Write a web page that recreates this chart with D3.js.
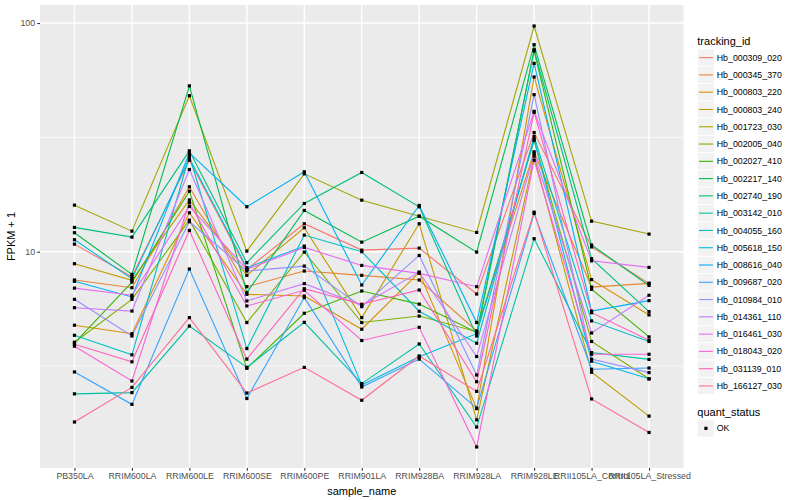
<!DOCTYPE html>
<html>
<head>
<meta charset="utf-8">
<script src="https://d3js.org/d3.v7.min.js"></script>
<style>
body { margin: 0; background: #fff; }
text { font-family: "Liberation Sans", Arial, Helvetica, sans-serif; }
</style>
</head>
<body>
<div id="chart"></div>
<script>
// sample names on the x axis
var samples = ["PB350LA", "RRIM600LA", "RRIM600LE", "RRIM600SE", "RRIM600PE", "RRIM901LA",
               "RRIM928BA", "RRIM928LA", "RRIM928LE", "RRII105LA_Control", "RRII105LA_Stressed"];

// FPKM + 1 per gene, one value per sample
var hb_000309_020 = [10.79, 7.78, 25.12, 8.37, 13.25, 10.16, 10.37, 6.53, 33.19, 10.49, 7.27];
var hb_000345_370 = [7.52, 6.96, 19.22, 7.03, 8.23, 7.88, 7.52, 4.50, 27.34, 7.00, 7.27];
var hb_000803_220 = [4.77, 4.38, 14.80, 6.51, 6.40, 4.58, 8.12, 2.06, 58.1, 7.55, 5.29];
var hb_000803_240 = [8.86, 7.49, 16.84, 7.88, 12.73, 5.15, 13.25, 1.84, 26.16, 2.97, 1.91];
var hb_001723_030 = [15.98, 12.30, 48.1, 10.06, 21.90, 16.80, 14.30, 12.14, 97.0, 13.60, 11.94];
var hb_002005_040 = [4.02, 6.19, 13.74, 4.90, 9.96, 4.90, 5.23, 4.47, 30.62, 4.05, 2.78];
var hb_002027_410 = [3.98, 7.36, 18.39, 3.09, 5.38, 6.73, 5.90, 4.43, 75.4, 6.85, 4.24];
var hb_002217_140 = [12.11, 7.96, 53.1, 6.62, 15.15, 11.01, 14.30, 9.96, 80.4, 10.69, 7.12];
var hb_002740_190 = [12.77, 11.58, 27.61, 8.95, 16.25, 22.20, 15.72, 4.28, 76.4, 9.32, 5.47];
var hb_003142_010 = [2.39, 2.42, 4.73, 3.12, 4.91, 2.65, 3.95, 1.71, 11.40, 3.62, 3.38];
var hb_004055_160 = [4.31, 3.54, 26.34, 3.77, 11.82, 10.00, 5.49, 3.98, 31.88, 4.98, 4.05];
var hb_005618_150 = [11.28, 7.62, 25.63, 8.51, 10.58, 2.61, 3.47, 4.38, 30.93, 3.32, 2.78];
var hb_008616_040 = [7.42, 6.34, 27.06, 15.72, 22.36, 7.15, 15.93, 4.90, 66.6, 5.50, 6.11];
var hb_009687_020 = [2.98, 2.15, 8.40, 2.28, 6.30, 2.56, 3.39, 2.07, 14.70, 3.06, 3.10];
var hb_010984_010 = [6.19, 4.28, 13.52, 8.23, 8.65, 5.75, 9.63, 2.89, 48.6, 3.39, 2.96];
var hb_014361_110 = [5.69, 5.50, 22.88, 6.09, 7.25, 5.83, 8.14, 3.48, 26.88, 4.41, 6.45];
var hb_016461_030 = [6.93, 6.45, 15.77, 8.37, 10.44, 8.71, 8.04, 7.03, 41.1, 9.12, 8.54];
var hb_018043_020 = [3.86, 2.72, 16.37, 5.79, 6.78, 4.09, 4.67, 1.40, 25.12, 3.56, 3.56];
var hb_031139_010 = [3.94, 3.30, 12.39, 3.39, 6.89, 5.89, 6.80, 2.70, 40.7, 5.41, 4.10];
var hb_166127_030 = [1.80, 2.55, 5.15, 2.41, 3.12, 2.24, 3.50, 2.45, 14.89, 2.27, 1.62];

var trackingIds = ["Hb_000309_020", "Hb_000345_370", "Hb_000803_220", "Hb_000803_240", "Hb_001723_030",
                   "Hb_002005_040", "Hb_002027_410", "Hb_002217_140", "Hb_002740_190", "Hb_003142_010",
                   "Hb_004055_160", "Hb_005618_150", "Hb_008616_040", "Hb_009687_020", "Hb_010984_010",
                   "Hb_014361_110", "Hb_016461_030", "Hb_018043_020", "Hb_031139_010", "Hb_166127_030"];
var seriesValues = [hb_000309_020, hb_000345_370, hb_000803_220, hb_000803_240, hb_001723_030,
                    hb_002005_040, hb_002027_410, hb_002217_140, hb_002740_190, hb_003142_010,
                    hb_004055_160, hb_005618_150, hb_008616_040, hb_009687_020, hb_010984_010,
                    hb_014361_110, hb_016461_030, hb_018043_020, hb_031139_010, hb_166127_030];
var yTicks = [10, 100];
var statusLabels = ["OK"];

// ggplot hue palette, 20 levels
var palette = ["#F8766D", "#EA8331", "#D89000", "#C09B00", "#A3A500", "#7CAE00", "#39B600", "#00BB4E",
               "#00BF7D", "#00C1A3", "#00BFC4", "#00BAE0", "#00B0F6", "#35A2FF", "#9590FF", "#C77CFF",
               "#E76BF3", "#FA62DB", "#FF62BC", "#FF6C91"];

var width = 800, height = 500;
var panel = {left: 40, right: 683.5, top: 5, bottom: 468};

var series = trackingIds.map(function(id, i) {
  return {id: id, color: palette[i],
          points: samples.map(function(s, j) { return {sample: s, value: seriesValues[i][j]}; })};
});

var svg = d3.select("#chart").append("svg")
  .attr("width", width).attr("height", height);

var x = d3.scalePoint()
  .domain(samples)
  .range([panel.left, panel.right])
  .padding(0.6);

var allVals = d3.merge(seriesValues);
var lo = Math.log10(d3.min(allVals)), hi = Math.log10(d3.max(allVals));
var pad = (hi - lo) * 0.05;
var y = d3.scaleLog()
  .domain([Math.pow(10, lo - pad), Math.pow(10, hi + pad)])
  .range([panel.bottom, panel.top]);

// panel
svg.append("rect")
  .attr("x", panel.left).attr("y", panel.top)
  .attr("width", panel.right - panel.left).attr("height", panel.bottom - panel.top)
  .attr("fill", "#EBEBEB");

var minorTicks = [Math.sqrt(10), Math.sqrt(10) * 10];
svg.selectAll(".minor").data(minorTicks).enter().append("line")
  .attr("x1", panel.left).attr("x2", panel.right)
  .attr("y1", function(d) { return y(d); }).attr("y2", function(d) { return y(d); })
  .attr("stroke", "#fff").attr("stroke-width", 0.7);

svg.selectAll(".majory").data(yTicks).enter().append("line")
  .attr("x1", panel.left).attr("x2", panel.right)
  .attr("y1", function(d) { return y(d); }).attr("y2", function(d) { return y(d); })
  .attr("stroke", "#fff").attr("stroke-width", 1.4);

svg.selectAll(".majorx").data(samples).enter().append("line")
  .attr("x1", function(d) { return x(d); }).attr("x2", function(d) { return x(d); })
  .attr("y1", panel.top).attr("y2", panel.bottom)
  .attr("stroke", "#fff").attr("stroke-width", 1.4);

// lines
var line = d3.line()
  .x(function(d) { return x(d.sample); })
  .y(function(d) { return y(d.value); });

svg.selectAll(".series").data(series).enter().append("path")
  .attr("d", function(d) { return line(d.points); })
  .attr("fill", "none")
  .attr("stroke", function(d) { return d.color; })
  .attr("stroke-width", 1.1);

// points
var ps = 3.2;
svg.selectAll(".pt").data(d3.merge(series.map(function(s) { return s.points; })))
  .enter().append("rect")
  .attr("x", function(d) { return x(d.sample) - ps / 2; })
  .attr("y", function(d) { return y(d.value) - ps / 2; })
  .attr("width", ps).attr("height", ps)
  .attr("fill", "#000");

// axes
var yAxis = svg.append("g")
  .attr("transform", "translate(" + panel.left + ",0)")
  .call(d3.axisLeft(y).tickValues(yTicks).tickFormat(d3.format("d")).tickSize(2.75).tickPadding(2.2));
var xAxis = svg.append("g")
  .attr("transform", "translate(0," + panel.bottom + ")")
  .call(d3.axisBottom(x).tickSize(2.75).tickPadding(2.2));
[xAxis, yAxis].forEach(function(g) {
  g.select(".domain").remove();
  g.selectAll(".tick line").attr("stroke", "#333333").attr("stroke-width", 1.1);
  g.selectAll(".tick text").attr("fill", "#4D4D4D")
    .style("font-size", "8.8px").style("font-family", "'Liberation Sans', Arial, sans-serif");
});

svg.append("text")
  .attr("x", (panel.left + panel.right) / 2).attr("y", 495)
  .attr("text-anchor", "middle").style("font-size", "11px").attr("fill", "#000")
  .text("sample_name");

svg.append("text")
  .attr("transform", "translate(15," + ((panel.top + panel.bottom) / 2) + ") rotate(-90)")
  .attr("text-anchor", "middle").style("font-size", "11px").attr("fill", "#000")
  .text("FPKM + 1");

// legend: tracking_id
var lx = 697.3, keySize = 17.28;
var legend = svg.append("g");
legend.append("text").attr("x", lx).attr("y", 44.5)
  .style("font-size", "11px").attr("fill", "#000").text("tracking_id");

var items = legend.selectAll(".item").data(series).enter().append("g")
  .attr("transform", function(d, i) { return "translate(" + lx + "," + (49 + i * keySize) + ")"; });
items.append("rect").attr("width", keySize).attr("height", keySize)
  .attr("fill", "#F2F2F2").attr("stroke", "#fff").attr("stroke-width", 0.8);
items.append("line")
  .attr("x1", 1.7).attr("x2", keySize - 1.7)
  .attr("y1", keySize / 2).attr("y2", keySize / 2)
  .attr("stroke", function(d) { return d.color; }).attr("stroke-width", 1.1);
items.append("text")
  .attr("x", keySize + 2.2).attr("y", keySize / 2 + 3.1)
  .style("font-size", "8.8px").attr("fill", "#000")
  .text(function(d) { return d.id; });

// legend: quant_status
legend.append("text").attr("x", lx).attr("y", 415.5)
  .style("font-size", "11px").attr("fill", "#000").text("quant_status");
var st = legend.selectAll(".st").data(statusLabels).enter().append("g")
  .attr("transform", function(d, i) { return "translate(" + lx + "," + (419.7 + i * keySize) + ")"; });
st.append("rect").attr("width", keySize).attr("height", keySize)
  .attr("fill", "#F2F2F2").attr("stroke", "#fff").attr("stroke-width", 0.8);
st.append("rect")
  .attr("x", keySize / 2 - ps / 2).attr("y", keySize / 2 - ps / 2)
  .attr("width", ps).attr("height", ps).attr("fill", "#000");
st.append("text")
  .attr("x", keySize + 2.2).attr("y", keySize / 2 + 3.1)
  .style("font-size", "8.8px").attr("fill", "#000")
  .text(function(d) { return d; });
</script>
</body>
</html>
